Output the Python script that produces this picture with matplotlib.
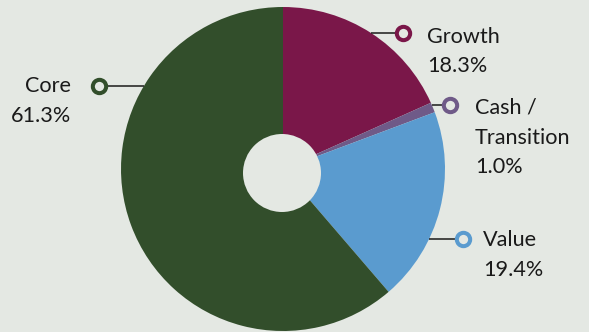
import numpy as np
import matplotlib
matplotlib.use("Agg")
import matplotlib.pyplot as plt
from matplotlib.patches import Circle

# Allocation shares (percent), clockwise from 12 o'clock
categories = ["Growth", "Cash /\nTransition", "Value", "Core"]
values = [18.3, 1.0, 19.4, 61.3]
value_labels = ["18.3%", "1.0%", "19.4%", "61.3%"]
colors = ["#7a1749", "#6f5a88", "#5a9bcf", "#324e2b"]

BG = "#e4e8e3"
W, H = 589, 332

fig = plt.figure(figsize=(W / 100, H / 100), dpi=100, facecolor=BG)
ax = fig.add_axes([0, 0, 1, 1])
ax.set_facecolor(BG)

cx, cy, r = 283, H - 169, 162
ax.pie(values, colors=colors, startangle=90, counterclock=False,
       center=(cx, cy), radius=r, frame=True,
       wedgeprops=dict(linewidth=0))
ax.set_xlim(0, W)
ax.set_ylim(0, H)
ax.set_aspect("equal")
ax.axis("off")

# donut hole
ax.add_patch(Circle((282, H - 173), 39, facecolor=BG, edgecolor="none", zorder=3))

font = dict(family=["Lato", "DejaVu Sans"], fontsize=15.6, color="#1a1a1a")

def edge_x(y, side):
    dy = y - cy
    return cx + side * np.sqrt(r ** 2 - dy ** 2)

# (marker x, marker y, side of pie, text x, text alignment, first baseline)
callouts = [
    (403, H - 33, 1, 427, "left", H - 43),
    (450, H - 105, 1, 475, "left", H - 114),
    (463, H - 239, 1, 483, "left", H - 246),
    (99, H - 86, -1, 71, "right", H - 92),
]

for (mx, my, side, tx, ha, by), name, pct, col in zip(callouts, categories, value_labels, colors):
    ex = edge_x(my, side)
    ax.plot([ex, mx], [my, my], color="#1a1a1a", lw=1.1, zorder=4, solid_capstyle="butt")
    ax.plot(mx, my, marker="o", ms=9.6, mew=2.9, mfc=BG, mec=col, zorder=5)
    lines = name.split("\n") + [pct]
    for i, t in enumerate(lines):
        ax.text(tx, by - i * 29.5, t, ha=ha, va="baseline", zorder=6, **font)

fig.savefig("out.png", dpi=100, facecolor=BG)
